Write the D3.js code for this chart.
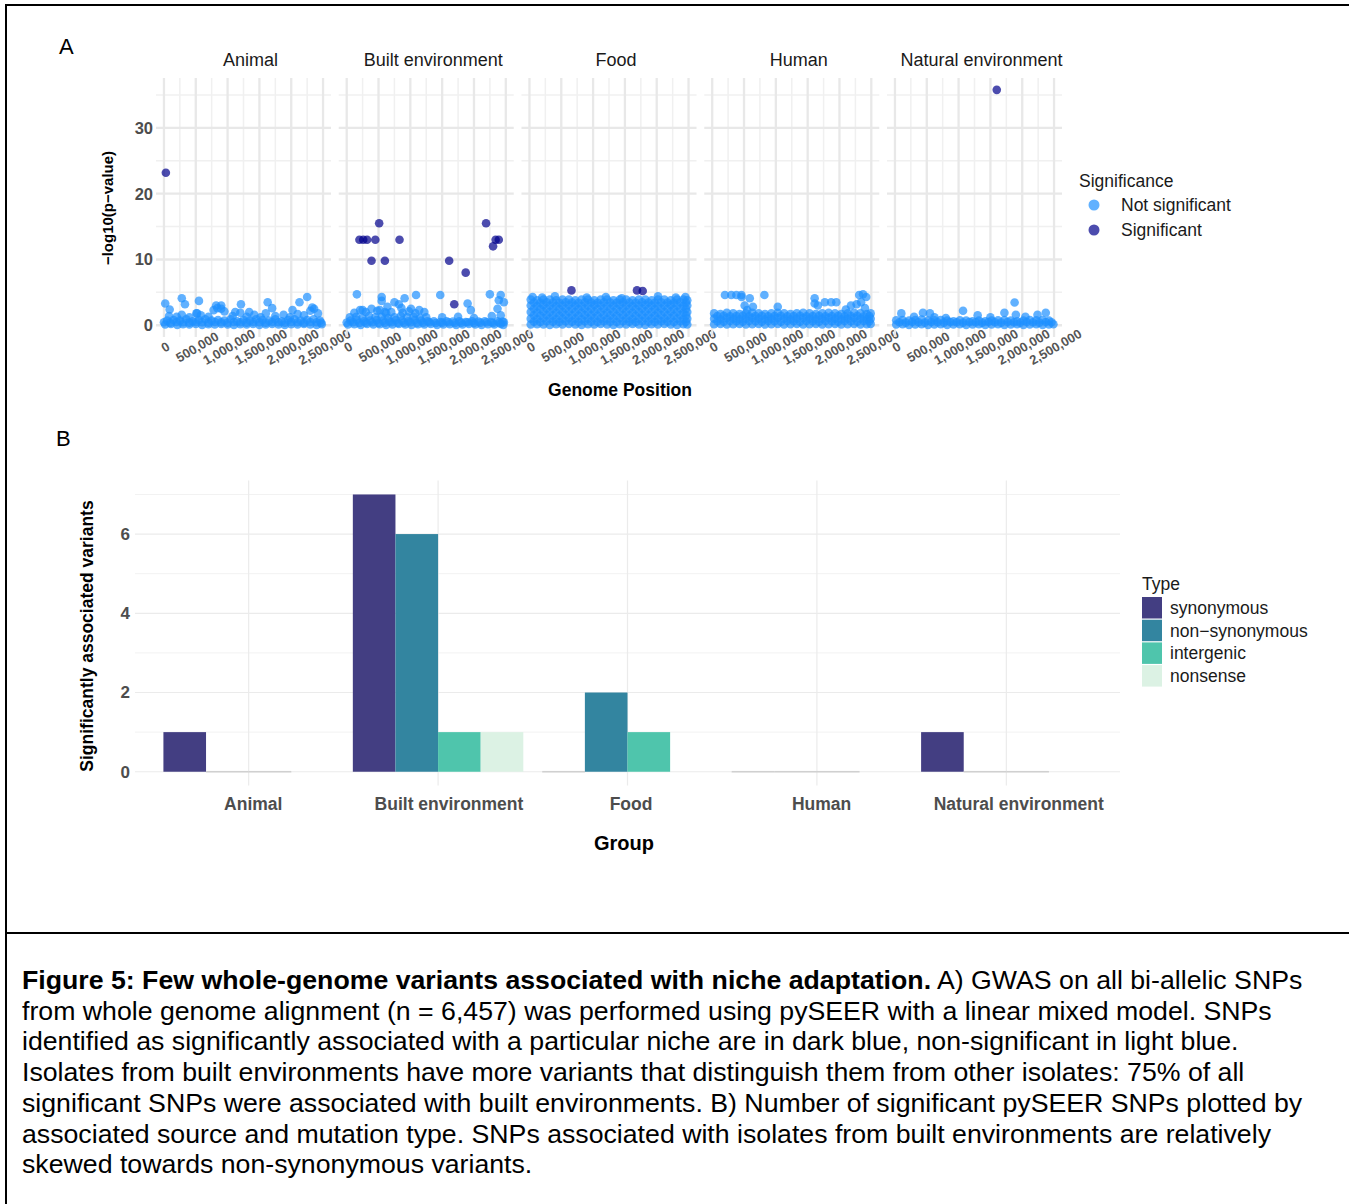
<!DOCTYPE html>
<html><head><meta charset="utf-8">
<script src="https://cdn.jsdelivr.net/npm/d3@7"></script>
<style>body{margin:0;background:#fff}svg{display:block;font-family:"Liberation Sans",Arial,sans-serif}</style>
</head><body>
<script>
// ---------------- DATA ----------------
const facets = ["Animal","Built environment","Food","Human","Natural environment"];
const posTicks = [0,0.5,1,1.5,2,2.5]; // Mb
const posTickLabels = ["0","500,000","1,000,000","1,500,000","2,000,000","2,500,000"];
const pTicks = [0,10,20,30];
const sigLevels = ["Not significant","Significant"];

// Non-significant SNPs: [position (Mb), -log10 p]
const animalNS = [
[0.02,0.1],[0.11,0.2],[0.21,0.05],[0.3,0.15],[0.4,0.1],[0.5,0.2],[0.6,0.05],[0.7,0.15],[0.8,0.1],[0.9,0.2],[1.0,0.1],[1.1,0.05],[1.2,0.15],[1.3,0.1],[1.4,0.2],[1.5,0.05],[1.6,0.1],[1.7,0.2],[1.8,0.1],[1.9,0.05],[2.0,0.15],[2.1,0.1],[2.2,0.2],[2.3,0.1],[2.4,0.05],[2.48,0.15],
[0.0,0.45],[0.1,0.4],[0.2,0.5],[0.3,0.45],[0.4,0.4],[0.5,0.5],[0.6,0.45],[0.7,0.4],[0.8,0.5],[0.9,0.45],[1.0,0.4],[1.1,0.5],[1.2,0.45],[1.3,0.4],[1.4,0.5],[1.5,0.45],[1.6,0.4],[1.7,0.5],[1.8,0.45],[1.9,0.4],[2.0,0.5],[2.1,0.45],[2.2,0.4],[2.3,0.5],[2.4,0.45],[2.47,0.4],
[0.05,0.7],[0.15,0.8],[0.25,0.7],[0.35,0.9],[0.45,0.6],[0.55,0.8],[0.65,0.9],[0.75,0.7],[0.85,0.8],[0.95,0.7],[1.05,0.9],[1.15,0.6],[1.25,0.8],[1.35,0.7],[1.45,0.9],[1.55,0.8],[1.65,0.7],[1.75,0.9],[1.85,0.6],[1.95,0.8],[2.05,0.9],[2.15,0.7],[2.25,0.8],[2.35,0.9],[2.45,0.7],
[0.08,1.4],[0.2,1.3],[0.28,1.6],[0.4,1.2],[0.58,1.5],[0.7,1.3],[0.78,2.3],[0.84,2.6],[0.9,2.5],[0.95,2.1],[1.08,1.4],[1.2,1.9],[1.3,1.3],[1.42,1.6],[1.52,1.2],[1.6,1.8],[1.75,1.4],[1.88,1.6],[1.98,1.2],[2.1,1.7],[2.2,1.5],[2.3,2.2],[2.36,2.5],[2.42,1.8],[0.52,1.8],[1.12,2.0],
[0.02,3.3],[0.28,4.1],[0.33,3.2],[0.55,3.7],[0.09,2.4],[0.82,3.0],[0.9,3.0],[1.21,3.2],[1.63,3.5],[1.7,2.6],[2.13,3.5],[2.25,4.3],[2.33,2.7],[2.02,2.3],[1.34,2.0],[0.51,1.8]
];
const builtNS = [
[0.02,0.1],[0.12,0.15],[0.22,0.05],[0.32,0.2],[0.42,0.1],[0.52,0.15],[0.62,0.05],[0.72,0.1],[0.82,0.2],[0.92,0.1],[1.02,0.05],[1.12,0.15],[1.22,0.1],[1.32,0.2],[1.42,0.05],[1.52,0.1],[1.62,0.15],[1.72,0.05],[1.82,0.1],[1.92,0.2],[2.02,0.1],[2.12,0.05],[2.22,0.15],[2.32,0.1],[2.42,0.2],[2.46,0.05],
[0.0,0.4],[0.1,0.45],[0.2,0.35],[0.3,0.4],[0.4,0.45],[0.5,0.35],[0.6,0.4],[0.7,0.45],[0.8,0.35],[0.9,0.4],[1.0,0.45],[1.1,0.35],[1.2,0.4],[1.3,0.45],[1.4,0.35],[1.5,0.4],[1.6,0.45],[1.7,0.35],[1.8,0.4],[1.9,0.45],[2.0,0.35],[2.1,0.4],[2.2,0.45],[2.3,0.35],[2.4,0.4],[2.47,0.45],
[0.06,0.7],[0.16,0.8],[0.27,0.6],[0.37,0.7],[0.47,0.8],[0.57,0.7],[0.67,0.6],[0.77,0.8],[0.87,0.7],[0.97,0.6],[1.07,0.8],[1.17,0.7],[1.27,0.6],[1.37,0.6],[1.47,0.5],[1.57,0.6],[1.67,0.55],[1.77,0.6],[1.87,0.5],[1.97,0.6],[2.07,0.55],[2.17,0.6],[2.27,0.5],[2.37,0.6],[2.45,0.55],
[0.05,1.2],[0.15,1.3],[0.25,1.1],[0.35,1.4],[0.45,1.2],[0.55,1.3],[0.65,1.1],[0.75,1.2],[0.85,1.4],[0.95,1.2],[1.05,1.3],[1.15,1.1],[1.25,1.2],
[0.12,1.9],[0.3,2.0],[0.48,2.2],[0.62,1.8],[0.7,2.0],[0.88,1.9],[0.98,2.1],[1.08,1.8],[1.5,1.2],[1.75,1.3],[2.0,1.1],[2.28,1.4],[2.42,1.5],
[0.16,4.7],[1.09,4.6],[1.47,4.6],[2.25,4.7],[2.42,4.6],[0.55,4.3],[0.55,3.7],[0.91,4.1],[0.75,3.5],[0.21,2.3],[1.01,2.5],[1.14,2.3],[1.22,2.0],[1.9,3.3],[1.95,2.3],[2.39,3.8],[2.47,3.5],[2.37,2.5],[0.39,2.5],[0.64,2.8],[0.6,2.0],[0.25,2.3],[0.52,2.3],[0.82,3.2],[0.86,2.6]
];
const foodNS = [
[0.02,0.1],[0.12,0.15],[0.22,0.1],[0.32,0.05],[0.42,0.15],[0.52,0.1],[0.62,0.2],[0.72,0.1],[0.82,0.05],[0.92,0.15],[1.02,0.1],[1.12,0.2],[1.22,0.1],[1.32,0.05],[1.42,0.15],[1.52,0.1],[1.62,0.2],[1.72,0.1],[1.82,0.05],[1.92,0.15],[2.02,0.1],[2.12,0.2],[2.22,0.1],[2.32,0.05],[2.42,0.15],[2.48,0.1],
[0.07,0.55],[0.17,0.5],[0.27,0.6],[0.37,0.55],[0.47,0.5],[0.57,0.6],[0.67,0.55],[0.77,0.5],[0.87,0.6],[0.97,0.55],[1.07,0.5],[1.17,0.6],[1.27,0.55],[1.37,0.5],[1.47,0.6],[1.57,0.55],[1.67,0.5],[1.77,0.6],[1.87,0.55],[1.97,0.5],[2.07,0.6],[2.17,0.55],[2.27,0.5],[2.37,0.6],[2.46,0.55],
[0.02,1.0],[0.12,0.9],[0.22,1.1],[0.32,1.0],[0.42,0.9],[0.52,1.0],[0.62,1.1],[0.72,1.0],[0.82,0.9],[0.92,1.0],[1.02,1.1],[1.12,1.0],[1.22,0.9],[1.32,1.0],[1.42,1.1],[1.52,1.0],[1.62,0.9],[1.72,1.0],[1.82,1.1],[1.92,1.0],[2.02,0.9],[2.12,1.0],[2.22,1.1],[2.32,1.0],[2.42,0.9],[2.48,1.0],
[0.07,1.5],[0.17,1.45],[0.27,1.55],[0.37,1.5],[0.47,1.45],[0.57,1.55],[0.67,1.5],[0.77,1.45],[0.87,1.55],[0.97,1.5],[1.07,1.45],[1.17,1.55],[1.27,1.5],[1.37,1.45],[1.47,1.55],[1.57,1.5],[1.67,1.45],[1.77,1.55],[1.87,1.5],[1.97,1.45],[2.07,1.55],[2.17,1.5],[2.27,1.45],[2.37,1.55],[2.46,1.5],
[0.02,2.0],[0.12,1.9],[0.22,2.1],[0.32,2.0],[0.42,1.9],[0.52,2.0],[0.62,2.1],[0.72,2.0],[0.82,1.9],[0.92,2.0],[1.02,2.1],[1.12,2.0],[1.22,1.9],[1.32,2.0],[1.42,2.1],[1.52,2.0],[1.62,1.9],[1.72,2.0],[1.82,2.1],[1.92,2.0],[2.02,1.9],[2.12,2.0],[2.22,2.1],[2.32,2.0],[2.42,1.9],[2.48,2.0],
[0.07,2.5],[0.17,2.45],[0.27,2.55],[0.37,2.5],[0.47,2.45],[0.57,2.55],[0.67,2.5],[0.77,2.45],[0.87,2.55],[0.97,2.5],[1.07,2.45],[1.17,2.55],[1.27,2.5],[1.37,2.45],[1.47,2.55],[1.57,2.5],[1.67,2.45],[1.77,2.55],[1.87,2.5],[1.97,2.45],[2.07,2.55],[2.17,2.5],[2.27,2.45],[2.37,2.55],[2.46,2.5],
[0.02,3.0],[0.12,2.9],[0.22,3.1],[0.32,3.0],[0.42,2.9],[0.52,3.0],[0.62,3.1],[0.72,3.0],[0.82,2.9],[0.92,3.0],[1.02,3.1],[1.12,3.0],[1.22,2.9],[1.32,3.0],[1.42,3.1],[1.52,3.0],[1.62,2.9],[1.72,3.0],[1.82,3.1],[1.92,3.0],[2.02,2.9],[2.12,3.0],[2.22,3.1],[2.32,3.0],[2.42,2.9],[2.48,3.0],
[0.07,3.45],[0.17,3.4],[0.27,3.5],[0.37,3.45],[0.47,3.4],[0.57,3.5],[0.67,3.45],[0.77,3.4],[0.87,3.5],[0.97,3.45],[1.07,3.4],[1.17,3.5],[1.27,3.45],[1.37,3.4],[1.47,3.5],[1.57,3.45],[1.67,3.4],[1.77,3.5],[1.87,3.45],[1.97,3.4],[2.07,3.5],[2.17,3.45],[2.27,3.4],[2.37,3.5],[2.46,3.45],
[0.02,3.9],[0.12,3.8],[0.22,3.9],[0.32,3.9],[0.42,3.8],[0.52,3.9],[0.62,3.9],[0.72,3.8],[0.82,3.9],[0.92,3.9],[1.02,3.8],[1.12,3.9],[1.22,3.9],[1.32,3.8],[1.42,3.9],[1.52,3.9],[1.62,3.8],[1.72,3.9],[1.82,3.9],[1.92,3.8],[2.02,3.9],[2.12,3.9],[2.22,3.8],[2.32,3.9],[2.42,3.9],[2.48,3.8],
[0.05,4.3],[0.2,4.2],[0.4,4.4],[0.9,4.2],[1.2,4.3],[1.45,4.1],[2.02,4.4],[2.3,4.2],[2.45,4.3]
];
const humanNS = [
[0.03,0.15],[0.13,0.2],[0.23,0.1],[0.33,0.15],[0.43,0.2],[0.53,0.1],[0.63,0.15],[0.73,0.2],[0.83,0.1],[0.93,0.15],[1.03,0.2],[1.13,0.1],[1.23,0.15],[1.33,0.2],[1.43,0.1],[1.53,0.15],[1.63,0.2],[1.73,0.1],[1.83,0.15],[1.93,0.2],[2.03,0.1],[2.13,0.15],[2.23,0.2],[2.33,0.1],[2.43,0.15],[2.49,0.2],
[0.08,0.6],[0.18,0.55],[0.28,0.65],[0.38,0.6],[0.48,0.55],[0.58,0.65],[0.68,0.6],[0.78,0.55],[0.88,0.65],[0.98,0.6],[1.08,0.55],[1.18,0.65],[1.28,0.6],[1.38,0.55],[1.48,0.65],[1.58,0.6],[1.68,0.55],[1.78,0.65],[1.88,0.6],[1.98,0.55],[2.08,0.65],[2.18,0.6],[2.28,0.55],[2.38,0.65],[2.47,0.6],
[0.03,1.0],[0.13,0.9],[0.23,1.1],[0.33,1.0],[0.43,0.9],[0.53,1.0],[0.63,1.1],[0.73,1.0],[0.83,0.9],[0.93,1.0],[1.03,1.1],[1.13,1.0],[1.23,0.9],[1.33,1.0],[1.43,1.1],[1.53,1.0],[1.63,0.9],[1.73,1.0],[1.83,1.1],[1.93,1.0],[2.03,0.9],[2.13,1.0],[2.23,1.1],[2.33,1.0],[2.43,0.9],[2.49,1.0],
[0.08,1.4],[0.18,1.45],[0.28,1.35],[0.38,1.4],[0.48,1.45],[0.58,1.35],[0.68,1.4],[0.78,1.45],[0.88,1.35],[0.98,1.4],[1.08,1.45],[1.18,1.35],[1.28,1.4],[1.38,1.45],[1.48,1.35],[1.58,1.4],[1.68,1.45],[1.78,1.35],[1.88,1.4],[1.98,1.45],[2.08,1.35],[2.18,1.4],[2.28,1.45],[2.38,1.35],[2.47,1.4],
[0.03,1.8],[0.13,1.7],[0.23,1.9],[0.33,1.8],[0.43,1.7],[0.53,1.8],[0.63,1.9],[0.73,1.8],[0.83,1.7],[0.93,1.8],[1.03,1.9],[1.13,1.8],[1.23,1.7],[1.33,1.8],[1.43,1.9],[1.53,1.8],[1.63,1.7],[1.73,1.8],[1.83,1.9],[1.93,1.8],[2.03,1.7],[2.13,1.8],[2.23,1.9],[2.33,1.8],[2.43,1.7],[2.49,1.8],
[0.2,4.6],[0.3,4.6],[0.38,4.6],[0.46,4.6],[0.59,4.1],[0.46,4.3],[0.82,4.6],[0.51,3.0],[0.64,2.8],[1.03,2.8],[1.61,4.1],[1.61,3.3],[1.66,3.0],[1.77,3.5],[1.87,3.5],[1.95,3.5],[2.18,3.0],[2.31,4.6],[2.37,4.7],[2.42,4.3],[2.34,3.5],[2.27,3.2],[2.4,2.6],[0.55,2.3],[2.1,2.4]
];
const naturalNS = [
[0.02,0.1],[0.12,0.15],[0.22,0.05],[0.32,0.1],[0.42,0.15],[0.52,0.05],[0.62,0.1],[0.72,0.15],[0.82,0.05],[0.92,0.1],[1.02,0.15],[1.12,0.05],[1.22,0.1],[1.32,0.15],[1.42,0.05],[1.52,0.1],[1.62,0.15],[1.72,0.05],[1.82,0.1],[1.92,0.15],[2.02,0.05],[2.12,0.1],[2.22,0.15],[2.32,0.05],[2.42,0.1],[2.49,0.15],
[0.07,0.45],[0.17,0.4],[0.27,0.5],[0.37,0.45],[0.47,0.4],[0.57,0.5],[0.67,0.45],[0.77,0.4],[0.87,0.5],[0.97,0.45],[1.07,0.4],[1.17,0.5],[1.27,0.45],[1.37,0.4],[1.47,0.5],[1.57,0.45],[1.67,0.4],[1.77,0.5],[1.87,0.45],[1.97,0.4],[2.07,0.5],[2.17,0.45],[2.27,0.4],[2.37,0.5],[2.46,0.45],
[0.02,0.75],[0.12,0.8],[0.22,0.7],[0.32,0.8],[0.42,0.85],[0.52,0.7],[0.62,0.75],[0.72,0.8],[0.82,0.7],[0.92,0.6],[1.02,0.75],[1.12,0.7],[1.22,0.6],[1.32,0.7],[1.42,0.6],[1.52,0.7],[1.62,0.75],[1.72,0.8],[1.82,0.7],[1.92,0.6],[2.02,0.7],[2.12,0.8],[2.22,0.75],[2.32,0.8],[2.42,0.7],
[0.1,1.8],[0.44,1.9],[0.55,1.8],[1.07,2.2],[1.3,1.5],[1.72,1.9],[1.88,3.45],[1.9,1.6],[2.24,1.6],[2.37,1.9],[0.3,1.3],[0.62,1.2],[0.8,1.1],[1.5,1.2],[2.05,1.3]
];
const nsByFacet = [animalNS, builtNS, foodNS, humanNS, naturalNS];

// Significant SNPs
const animalSig = [[0.03,23.2]];
const builtSig = [[0.2,13.0],[0.26,13.0],[0.32,13.0],[0.45,13.0],[0.51,15.5],[0.83,13.0],[0.39,9.8],[0.6,9.8],[1.61,9.8],[1.87,8.0],[2.19,15.5],[2.30,12.0],[2.34,13.0],[2.39,13.0],[1.69,3.2]];
const foodSig = [[0.66,5.3],[1.69,5.3],[1.78,5.2]];
const humanSig = [];
const naturalSig = [[1.6,35.8]];
const sigByFacet = [animalSig, builtSig, foodSig, humanSig, naturalSig];

// Panel B
const groups = ["Animal","Built environment","Food","Human","Natural environment"];
const types = ["synonymous","non\u2212synonymous","intergenic","nonsense"];
const synonymous = [1,7,0,0,1];
const nonSynonymous = [0,6,2,0,0];
const intergenic = [0,1,1,0,0];
const nonsense = [null,1,null,null,null];
const countTicks = [0,2,4,6];
const typeColors = ["#433E82","#3385A0","#4FC5AC","#DCF2E4"];

// ---------------- DRAW ----------------
const W = 1349, H = 1204;
const svg = d3.select("body").append("svg").attr("width",W).attr("height",H);
const FONT = '"Liberation Sans",Arial,sans-serif';

// frame
svg.append("line").attr("x1",6).attr("x2",6).attr("y1",4).attr("y2",H).attr("stroke","#000").attr("stroke-width",2);
svg.append("line").attr("x1",5).attr("x2",W).attr("y1",5).attr("y2",5).attr("stroke","#000").attr("stroke-width",2);
svg.append("line").attr("x1",5).attr("x2",W).attr("y1",933).attr("y2",933).attr("stroke","#000").attr("stroke-width",2);

svg.append("text").attr("x",59).attr("y",54).attr("font-size",22).text("A");
svg.append("text").attr("x",56).attr("y",446).attr("font-size",22).text("B");

// ---- Panel A ----
const pTop = 78, pBot = 337, pW = 175, step = 182.75, left0 = 156;
const y = d3.scaleLinear().domain([-1.79, 37.6]).range([pBot, pTop]);
const nsColor = "#1E90FF", sigColor = "#00008B";

facets.forEach((f,i)=>{
  const g = svg.append("g").attr("transform",`translate(${left0+i*step},0)`);
  const x = d3.scaleLinear().domain([-0.125, 2.625]).range([0,pW]);
  const xMinor = posTicks.slice(0,-1).map((d,k)=>(d+posTicks[k+1])/2);
  const yMinor = [5,15,25,35];
  g.selectAll(".xm").data(xMinor).join("line").attr("x1",d=>x(d)).attr("x2",d=>x(d)).attr("y1",pTop).attr("y2",pBot).attr("stroke","#f0f0f0").attr("stroke-width",1.5);
  g.selectAll(".ym").data(yMinor).join("line").attr("x1",0).attr("x2",pW).attr("y1",d=>y(d)).attr("y2",d=>y(d)).attr("stroke","#f0f0f0").attr("stroke-width",1.5);
  g.selectAll(".xM").data(posTicks).join("line").attr("x1",d=>x(d)).attr("x2",d=>x(d)).attr("y1",pTop).attr("y2",pBot).attr("stroke","#e8e8e8").attr("stroke-width",2.3);
  g.selectAll(".yM").data(pTicks).join("line").attr("x1",0).attr("x2",pW).attr("y1",d=>y(d)).attr("y2",d=>y(d)).attr("stroke","#e8e8e8").attr("stroke-width",2.3);
  g.append("text").attr("x",pW/2+7).attr("y",66).attr("text-anchor","middle").attr("font-size",18).attr("fill","#1a1a1a").text(f);
  g.selectAll(".ns").data(nsByFacet[i]).join("circle").attr("cx",d=>x(d[0])).attr("cy",d=>y(d[1])).attr("r",4.3).attr("fill",nsColor).attr("fill-opacity",0.7);
  g.selectAll(".sg").data(sigByFacet[i]).join("circle").attr("cx",d=>x(d[0])).attr("cy",d=>y(d[1])).attr("r",4.3).attr("fill",sigColor).attr("fill-opacity",0.7);
  const ax = g.append("g").attr("transform",`translate(0,${pBot})`)
    .call(d3.axisBottom(x).tickValues(posTicks).tickFormat((d,k)=>posTickLabels[k]).tickSize(0));
  ax.select(".domain").remove();
  ax.selectAll("text").attr("y",0).attr("dy",null).attr("text-anchor","middle").attr("dominant-baseline","central")
    .attr("transform","translate(1,10) rotate(-30)").attr("font-size",13).attr("font-weight","bold").attr("fill","#555").attr("font-family",FONT);
  if(i===0){
    const ay = g.append("g").call(d3.axisLeft(y).tickValues(pTicks).tickSize(0).tickPadding(3));
    ay.select(".domain").remove();
    ay.selectAll("text").attr("font-size",16.5).attr("font-weight","bold").attr("fill","#4d4d4d").attr("font-family",FONT);
  }
});
svg.append("text").attr("transform","translate(107,208) rotate(-90)").attr("text-anchor","middle").attr("dominant-baseline","central")
  .attr("font-size",15).attr("font-weight","bold").text("\u2212log10(p\u2212value)");
svg.append("text").attr("x",620).attr("y",396).attr("text-anchor","middle").attr("font-size",17.5).attr("font-weight","bold").text("Genome Position");

// legend A
const lgA = svg.append("g");
lgA.append("text").attr("x",1079).attr("y",187).attr("font-size",17.5).attr("fill","#1a1a1a").text("Significance");
lgA.selectAll("circle").data(sigLevels).join("circle").attr("cx",1094).attr("cy",(d,k)=>205+k*25).attr("r",5.5)
  .attr("fill",(d,k)=>k?sigColor:nsColor).attr("fill-opacity",0.7);
lgA.selectAll(".lt").data(sigLevels).join("text").attr("x",1121).attr("y",(d,k)=>211+k*25).attr("font-size",17.5).attr("fill","#1a1a1a").text(d=>d);

// ---- Panel B ----
const bTop = 480.6, bBot = 785.6, bL = 135, bR = 1120;
const yb = d3.scaleLinear().domain([-0.35, 7.35]).range([bBot, bTop]);
const xg = d3.scalePoint().domain(groups).range([bL,bR]).padding(0.6);
const xt = d3.scaleBand().domain(types).range([-0.45*xg.step(), 0.45*xg.step()]);
const gb = svg.append("g");
gb.selectAll(".bym").data([1,3,5,7]).join("line").attr("x1",bL).attr("x2",bR).attr("y1",d=>yb(d)).attr("y2",d=>yb(d)).attr("stroke","#f2f2f2").attr("stroke-width",1);
gb.selectAll(".byM").data(countTicks).join("line").attr("x1",bL).attr("x2",bR).attr("y1",d=>yb(d)).attr("y2",d=>yb(d)).attr("stroke","#ebebeb").attr("stroke-width",1.2);
gb.selectAll(".bxM").data(groups).join("line").attr("x1",d=>xg(d)).attr("x2",d=>xg(d)).attr("y1",bTop).attr("y2",bBot).attr("stroke","#ebebeb").attr("stroke-width",1.2);

const series = [synonymous, nonSynonymous, intergenic, nonsense];
const barData = [];
groups.forEach((gName,gi)=>types.forEach((t,ti)=>{ const v = series[ti][gi]; if(v!==null) barData.push({g:gName,t,ti,v}); }));
gb.selectAll(".bar").data(barData).join("rect")
  .attr("x",d=>xg(d.g)+xt(d.t)).attr("width",xt.bandwidth())
  .attr("y",d=>d.v>0?yb(d.v):yb(0)-0.8).attr("height",d=>d.v>0?yb(0)-yb(d.v):1.6)
  .attr("fill",d=>d.v>0?typeColors[d.ti]:"#c8c8c8").attr("fill-opacity",d=>d.v>0?1:0.8);

const axb = gb.append("g").attr("transform",`translate(0,${bBot})`).call(d3.axisBottom(xg).tickSize(0).tickPadding(12));
axb.select(".domain").remove();
axb.selectAll("text").attr("font-size",17.5).attr("font-weight","bold").attr("fill","#4d4d4d").attr("font-family",FONT)
  .attr("text-anchor","start").attr("x",function(){ return -0.43*this.getComputedTextLength(); });
const ayb = gb.append("g").attr("transform",`translate(${bL},0)`).call(d3.axisLeft(yb).tickValues(countTicks).tickSize(0).tickPadding(5));
ayb.select(".domain").remove();
ayb.selectAll("text").attr("font-size",17).attr("font-weight","bold").attr("fill","#4d4d4d").attr("font-family",FONT);
svg.append("text").attr("transform","translate(87,636) rotate(-90)").attr("text-anchor","middle").attr("dominant-baseline","central")
  .attr("font-size",17.5).attr("font-weight","bold").text("Significantly associated variants");
svg.append("text").attr("x",624).attr("y",850).attr("text-anchor","middle").attr("font-size",20).attr("font-weight","bold").text("Group");

// legend B
const lgB = svg.append("g");
lgB.append("text").attr("x",1142).attr("y",590).attr("font-size",17.5).attr("fill","#1a1a1a").text("Type");
lgB.selectAll("rect").data(types).join("rect").attr("x",1142).attr("y",(d,k)=>597+k*22.7).attr("width",20).attr("height",21.5).attr("fill",(d,k)=>typeColors[k]);
lgB.selectAll(".lt").data(types).join("text").attr("x",1170).attr("y",(d,k)=>614+k*22.7).attr("font-size",17.5).attr("fill","#1a1a1a").text(d=>d);

// caption
const capLines = [
 [["Figure 5: Few whole-genome variants associated with niche adaptation.",true],[" A) GWAS on all bi-allelic SNPs",false]],
 [["from whole genome alignment (n = 6,457) was performed using pySEER with a linear mixed model. SNPs",false]],
 [["identified as significantly associated with a particular niche are in dark blue, non-significant in light blue.",false]],
 [["Isolates from built environments have more variants that distinguish them from other isolates: 75% of all",false]],
 [["significant SNPs were associated with built environments. B) Number of significant pySEER SNPs plotted by",false]],
 [["associated source and mutation type. SNPs associated with isolates from built environments are relatively",false]],
 [["skewed towards non-synonymous variants.",false]]
];
const cap = svg.append("g").attr("font-size",26.7).attr("fill","#000");
capLines.forEach((ln,k)=>{
  const t = cap.append("text").attr("x",22).attr("y",989+k*30.7);
  ln.forEach(([s,b])=>t.append("tspan").attr("font-weight",b?"bold":"normal").text(s));
});
</script>
</body></html>
